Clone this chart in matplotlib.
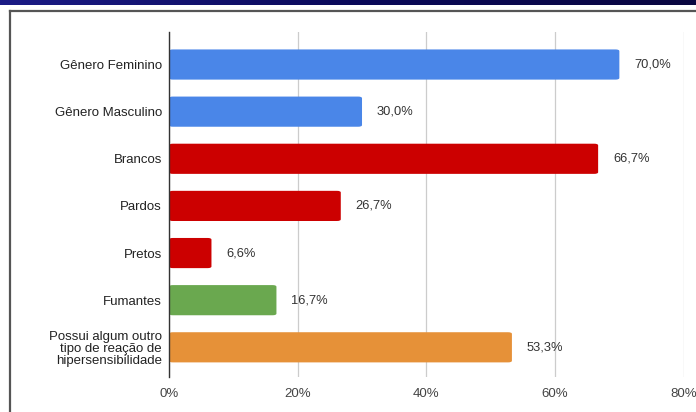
import matplotlib
matplotlib.use("Agg")
import matplotlib.pyplot as plt
import numpy as np
from matplotlib.patches import FancyBboxPatch
from matplotlib.lines import Line2D
from matplotlib.colors import LinearSegmentedColormap

categories = ["Gênero Feminino", "Gênero Masculino", "Brancos", "Pardos", "Pretos",
              "Fumantes", "Possui algum outro\ntipo de reação de\nhipersensibilidade"]
values = [70.0, 30.0, 66.7, 26.7, 6.6, 16.7, 53.3]
value_labels = ["70,0%", "30,0%", "66,7%", "26,7%", "6,6%", "16,7%", "53,3%"]
colors = ["#4a86e8", "#4a86e8", "#cc0000", "#cc0000", "#cc0000", "#6aa84f", "#e69138"]
xticks = [0, 20, 40, 60, 80]
xtick_labels = ["0%", "20%", "40%", "60%", "80%"]

plt.rcParams['font.family'] = ['Liberation Sans', 'DejaVu Sans']

fig = plt.figure(figsize=(6.96, 4.12), dpi=100)
fig.patch.set_facecolor("white")

# top dark banner (screenshot edge)
grad = np.linspace(0, 1, 256).reshape(1, -1)
cmap = LinearSegmentedColormap.from_list("nv", ["#1c1c86", "#0b0a5a", "#0a0740"])
bax = fig.add_axes([0, 1 - 5 / 412, 1, 5 / 412])
bax.imshow(grad, aspect="auto", cmap=cmap)
bax.axis("off")

# frame lines
fig.add_artist(Line2D([9.5 / 696, 9.5 / 696], [0, 1 - 10.5 / 412], color="#555555", lw=1.6))
fig.add_artist(Line2D([9.5 / 696, 1], [1 - 10.5 / 412, 1 - 10.5 / 412], color="#555555", lw=1.6))

left = 169 / 696
right = 683.7 / 696
top = 1 - 32 / 412
bottom = 1 - 377 / 412
ax = fig.add_axes([left, bottom, right - left, top - bottom])

y = np.arange(len(categories))
h = 0.64
for yi, v, c in zip(y, values, colors):
    ax.add_patch(FancyBboxPatch((0, yi - h / 2), v, h,
                                boxstyle="round,pad=0,rounding_size=0.6",
                                mutation_aspect=0.06,
                                facecolor=c, edgecolor="none", zorder=3))
for yi, v, lab in zip(y, values, value_labels):
    ax.text(v + 2.3, yi, lab, ha="left", va="center", fontsize=9.3, color="#333333")

ax.set_xlim(0, 80)
ax.set_ylim(6.63, -0.69)
ax.set_xticks(xticks)
ax.set_xticklabels(xtick_labels, fontsize=9.5, color="#444444")
ax.set_yticks(y)
ax.set_yticklabels(categories, fontsize=9.5, color="#222222", linespacing=1.0)
ax.tick_params(axis="y", length=0, pad=5)
ax.tick_params(axis="x", length=0, pad=8)
ax.grid(axis="x", color="#cccccc", lw=0.9, zorder=0)
for s in ["top", "right", "bottom"]:
    ax.spines[s].set_visible(False)
ax.spines["left"].set_color("#333333")
ax.spines["left"].set_linewidth(1.0)
ax.spines["left"].set_zorder(4)

fig.savefig("out.png", dpi=100, facecolor="white")
